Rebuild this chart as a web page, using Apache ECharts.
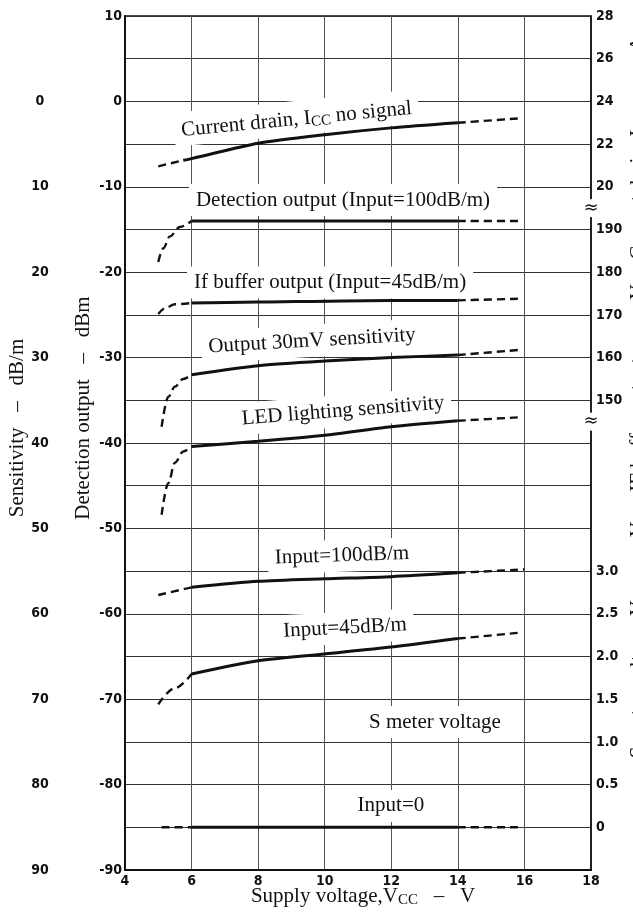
<!DOCTYPE html>
<html><head><meta charset="utf-8">
<script src="https://cdn.jsdelivr.net/npm/echarts@6/dist/echarts.min.js"></script>
<style>html,body{margin:0;padding:0;background:#fff}#c{width:633px;height:914px}</style>
</head><body><div id="c"></div>
<script>
// ---- data (x = supply voltage V, y = detection-output-scale value, dBm) ----
const currentDrain   = [[5,-7.6],[5.75,-6.9],[6,-6.7],[8,-4.9],[10,-3.9],[12,-3.1],[14,-2.5],[15.8,-2.0]];
const detection100   = [[5,-18.8],[5.15,-17.2],[5.35,-15.8],[5.65,-14.7],[6,-14.0],[10,-14.0],[14,-14.0],[15.9,-14.0]];
const ifBuffer45     = [[5,-24.9],[5.25,-24.1],[5.5,-23.75],[6,-23.6],[8,-23.5],[12,-23.3],[14,-23.3],[15.9,-23.1]];
const output30mV     = [[5.1,-38.1],[5.3,-34.6],[5.5,-33.4],[5.75,-32.5],[6,-32.0],[8,-30.95],[10,-30.4],[12,-30.0],[14,-29.7],[15.85,-29.1]];
const ledLighting    = [[5.1,-48.4],[5.3,-44.7],[5.5,-42.3],[5.75,-41.0],[6,-40.4],[8,-39.8],[10,-39.1],[12,-38.1],[14,-37.4],[15.8,-37.0]];
const sMeter100      = [[5,-57.8],[6,-56.9],[8,-56.2],[10,-55.9],[12,-55.65],[14,-55.2],[16,-54.8]];
const sMeter45       = [[5,-70.6],[5.5,-68.7],[6,-67.05],[8,-65.5],[10,-64.7],[12,-63.9],[14,-62.9],[15.9,-62.2]];
const sMeter0        = [[5.1,-85],[6,-85],[10,-85],[14,-85],[15.9,-85]];
const solidRanges    = {currentDrain:[5.75,14], detection100:[6,14], ifBuffer45:[6,14], output30mV:[6,14], ledLighting:[6,14], sMeter100:[6,14], sMeter45:[6,14], sMeter0:[6,14]};

// tick labels
const xTicks = [4,6,8,10,12,14,16,18];
const dbmTickValues = [10,0,-10,-20,-30,-40,-50,-60,-70,-80,-90];
const dbmTickLabels = ['10','0','-10','-20','-30','-40','-50','-60','-70','-80','-90'];
const sensTickValues = [0,-10,-20,-30,-40,-50,-60,-70,-80,-90];
const sensTickLabels = ['0','10','20','30','40','50','60','70','80','90'];
const rightTickValues = [10,5,0,-5,-10,-15,-20,-25,-30,-35,-55,-60,-65,-70,-75,-80,-85];
const rightTickLabels = ['28','26','24','22','20','190','180','170','160','150','3.0','2.5','2.0','1.5','1.0','0.5','0'];
const breakMarks = [-12.5,-37.5];

const SERIF = '"Liberation Serif","Times New Roman",serif';
const SANS = '"DejaVu Sans Condensed","DejaVu Sans",sans-serif';

const curves = {currentDrain, detection100, ifBuffer45, output30mV, ledLighting, sMeter100, sMeter45, sMeter0};
const series = [];
Object.keys(curves).forEach(function(k){
  const d = curves[k], r = solidRanges[k];
  const head = d.filter(p => p[0] <= r[0] + 1e-9);
  const mid  = d.filter(p => p[0] >= r[0] - 1e-9 && p[0] <= r[1] + 1e-9);
  const tail = d.filter(p => p[0] >= r[1] - 1e-9);
  const base = {type:'line', symbol:'none', silent:true, animation:false, xAxisIndex:0, yAxisIndex:0};
  const dash = {color:'#111', width:2.4, type:[8,5]};
  if (head.length > 1) series.push(Object.assign({}, base, {data:head, smooth:0.35, smoothMonotone:'x', lineStyle:dash}));
  series.push(Object.assign({}, base, {data:mid, smooth:0.25, lineStyle:{color:'#111', width:3}}));
  if (tail.length > 1) series.push(Object.assign({}, base, {data:tail, smooth:0.25, lineStyle:dash}));
});

function fmtFrom(values, labels){
  return function(v){ const i = values.findIndex(t => Math.abs(t - v) < 1e-6); return i >= 0 ? labels[i] : ''; };
}

const chart = echarts.init(document.getElementById('c'), null, {renderer:'canvas'});
const yBase = {type:'value', min:-90, max:10, interval:5, splitLine:{show:false}, axisTick:{show:false}};
const tickFont = {color:'#111', fontFamily:SANS, fontSize:14, fontWeight:'bold'};
chart.setOption({
  animation:false,
  backgroundColor:'#fff',
  grid:{left:125, right:42, top:16, bottom:44, show:true, borderColor:'#111', borderWidth:1.5},
  xAxis:[{type:'value', min:4, max:18, interval:2,
    axisLine:{onZero:false, lineStyle:{color:'#111', width:2}}, axisTick:{show:false},
    splitLine:{show:true, lineStyle:{color:'#555', width:1}},
    axisLabel:Object.assign({}, tickFont, {margin:4, formatter:function(v){return xTicks.indexOf(v)>=0?String(v):'';}})}],
  yAxis:[
    Object.assign({}, yBase, {position:'left',
      axisLine:{show:true, onZero:false, lineStyle:{color:'#111', width:2}},
      splitLine:{show:true, lineStyle:{color:'#333', width:1}},
      axisLabel:Object.assign({}, tickFont, {margin:3, formatter:fmtFrom(dbmTickValues, dbmTickLabels)})}),
    Object.assign({}, yBase, {position:'right',
      axisLine:{show:true, onZero:false, lineStyle:{color:'#111', width:1.5}},
      axisLabel:Object.assign({}, tickFont, {margin:5, formatter:fmtFrom(rightTickValues, rightTickLabels)})}),
    Object.assign({}, yBase, {position:'left', offset:70,
      axisLine:{show:false},
      axisLabel:Object.assign({}, tickFont, {margin:15, align:'center', formatter:fmtFrom(sensTickValues, sensTickLabels)})})
  ],
  series: series
});

// ---- annotations placed in data coordinates ----
function px(x, y){ return chart.convertToPixel({gridIndex:0}, [x, y]); }
const richSub = {
  n:{fontSize:21, fontFamily:SERIF, fill:'#111'},
  s:{fontSize:15, fontFamily:SERIF, fill:'#111', padding:[8,0,0,0]}
};
function label(x, y, text, rotDeg, rich){
  const p = px(x, y);
  return {type:'text', x:p[0], y:p[1], rotation:(rotDeg||0)*Math.PI/180, z:50, silent:true,
    style:{text:text, font:'21px ' + SERIF, fill:'#111', align:'center', verticalAlign:'middle',
      backgroundColor:'#fff', padding:[7,7,4,7], rich: rich}};
}
const graphics = [
  label(9.15, -1.94, '{n|Current drain, I}{s|CC}{n| no signal}', 5.5, richSub),
  label(10.55, -11.55, 'Detection output (Input=100dB/m)', 0),
  label(10.16, -21.2, 'If buffer output (Input=45dB/m)', 0),
  label(9.62, -28.05, 'Output 30mV sensitivity', 3.3),
  label(10.55, -36.25, 'LED lighting sensitivity', 4.5),
  label(10.52, -53.2, 'Input=100dB/m', 2),
  label(10.61, -61.66, 'Input=45dB/m', 3),
  label(13.31, -72.67, 'S meter voltage', 0),
  label(11.99, -82.5, 'Input=0', 0)
];
breakMarks.forEach(function(v){
  const p = px(18, v);
  graphics.push({type:'text', x:p[0], y:p[1], z:60, silent:true,
    style:{text:'≈', font:'18px "DejaVu Sans"', fill:'#111', align:'center', verticalAlign:'middle', backgroundColor:'#fff', padding:[0,1]}});
});
// axis titles
function vtitle(x, y, text, rich){
  return {type:'text', x:x, y:y, rotation:Math.PI/2, z:50, silent:true,
    style:{text:text, font:'21px ' + SERIF, fill:'#111', align:'center', verticalAlign:'middle', rich:rich}};
}
const richSub21 = {
  n:{fontSize:21, fontFamily:SERIF, fill:'#111'},
  s:{fontSize:15, fontFamily:SERIF, fill:'#111', padding:[8,0,0,0]}
};
graphics.push(vtitle(17, 428, 'Sensitivity   –   dB/m'));
graphics.push(vtitle(83, 408, 'Detection output   –   dBm'));
graphics.push(vtitle(638, 148, '{n|Current drain, I}{s|CC}{n|   –   mA}', richSub21));
graphics.push(vtitle(638, 388, 'IF buffer output   –   mV'));
graphics.push(vtitle(638, 640, '{n|S meter voltage, V}{s|SM}{n|   –   V}', richSub21));
graphics.push({type:'text', x:363, y:896, z:50, silent:true,
  style:{text:'{n|Supply voltage,V}{s|CC}{n|   –   V}', align:'center', verticalAlign:'middle', rich:richSub21}});
chart.setOption({graphic: graphics});
</script>
</body></html>
